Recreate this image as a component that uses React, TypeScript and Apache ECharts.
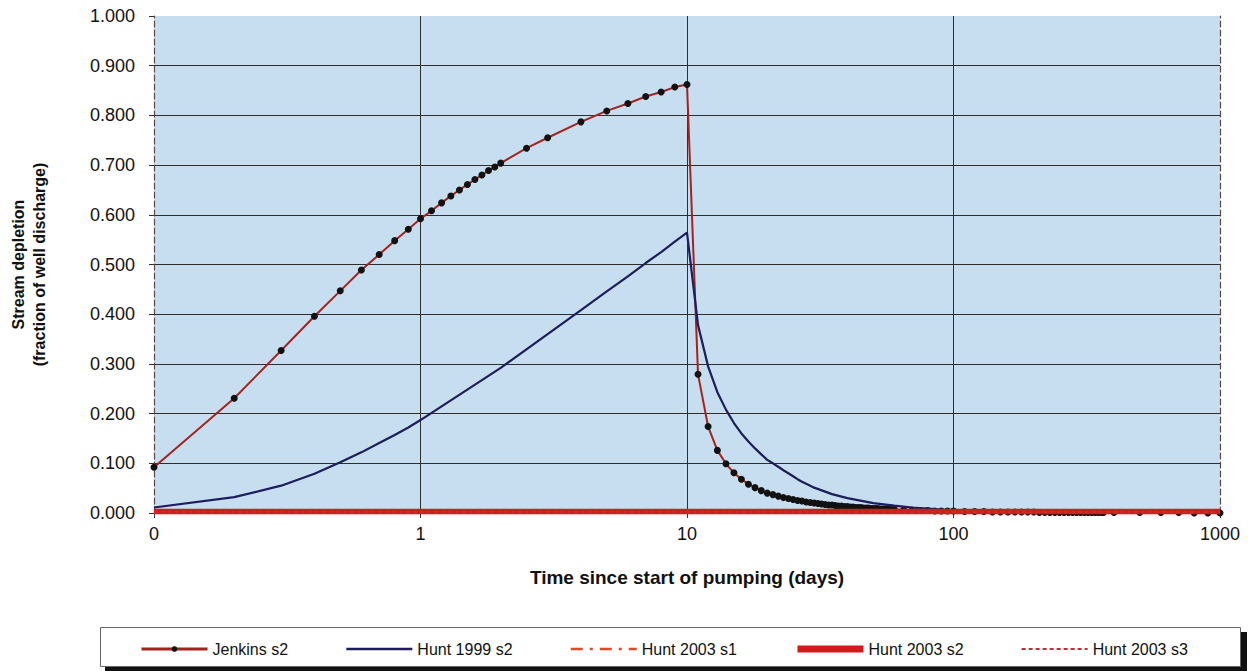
import React, { useEffect, useRef } from "react";
import * as echarts from "echarts";

// ---- Data ----
const jenkinsTimes = [
  0.1, 0.2, 0.3, 0.4, 0.5, 0.6, 0.7, 0.8, 0.9, 1.0,
  1.1, 1.2, 1.3, 1.4, 1.5, 1.6, 1.7, 1.8, 1.9, 2.0,
  2.5, 3, 4, 5, 6, 7, 8, 9, 10,
  11, 12, 13, 14, 15, 16, 17, 18, 19, 20,
  21, 22, 23, 24, 25, 26, 27, 28, 29, 30,
  31, 32, 33, 34, 35, 36, 37, 38, 39, 40,
  41, 42, 43, 44, 45, 46, 47, 48, 49, 50,
  51, 52, 53, 54, 55, 56, 57, 58, 59, 60,
  65, 70, 75, 80, 85, 90, 95, 100,
  110, 120, 130, 140, 150, 160, 170, 180, 190, 200,
  210, 220, 230, 240, 250, 260, 270, 280, 290, 300,
  310, 320, 330, 340, 350, 360, 365,
  400, 500, 600, 700, 800, 900, 1000,
];
const jenkinsValues = [
  0.092, 0.231, 0.327, 0.396, 0.447, 0.489, 0.520, 0.548, 0.571, 0.592,
  0.608, 0.624, 0.638, 0.650, 0.661, 0.671, 0.680, 0.689, 0.696, 0.704,
  0.734, 0.755, 0.787, 0.809, 0.824, 0.838, 0.847, 0.857, 0.862,
  0.279, 0.174, 0.126, 0.099, 0.081, 0.068, 0.058, 0.051, 0.045, 0.040,
  0.037, 0.034, 0.031, 0.029, 0.027, 0.025, 0.024, 0.022, 0.021, 0.020,
  0.019, 0.018, 0.017, 0.016, 0.016, 0.015, 0.014, 0.014, 0.013, 0.013,
  0.012, 0.012, 0.011, 0.011, 0.011, 0.010, 0.010, 0.010, 0.009, 0.009,
  0.009, 0.009, 0.008, 0.008, 0.008, 0.008, 0.007, 0.007, 0.007, 0.007,
  0.006, 0.006, 0.005, 0.005, 0.004, 0.004, 0.004, 0.004,
  0.003, 0.003, 0.003, 0.002, 0.002, 0.002, 0.002, 0.002, 0.002, 0.002,
  0.001, 0.001, 0.001, 0.001, 0.001, 0.001, 0.001, 0.001, 0.001, 0.001,
  0.001, 0.001, 0.001, 0.001, 0.001, 0.001, 0.001,
  0.001, 0.001, 0.001, 0.001, 0.000, 0.000, 0.000,
];

const hunt1999Times = [
  0.1, 0.2, 0.3, 0.4, 0.5, 0.6, 0.7, 0.8, 0.9, 1.0,
  2, 3, 4, 5, 6, 7, 8, 9, 10,
  11, 12, 13, 14, 15, 16, 17, 18, 19, 20,
  21, 22, 23, 24, 25, 26, 27, 28, 29, 30,
  35, 40, 50, 60, 70, 80, 90, 100,
  150, 200, 250, 300, 365,
];
const hunt1999Values = [
  0.011, 0.032, 0.055, 0.079, 0.102, 0.122, 0.141, 0.157, 0.172, 0.187,
  0.292, 0.360, 0.408, 0.446, 0.476, 0.503, 0.525, 0.546, 0.564,
  0.378, 0.295, 0.243, 0.208, 0.181, 0.160, 0.144, 0.130, 0.118, 0.107,
  0.100, 0.093, 0.086, 0.080, 0.074, 0.068, 0.063, 0.059, 0.055, 0.051,
  0.038, 0.030, 0.020, 0.015, 0.011, 0.009, 0.007, 0.006,
  0.003, 0.002, 0.002, 0.001, 0.001,
];

const hunt2003Times = [0.1, 0.2, 0.5, 1, 2, 5, 10, 20, 50, 100, 200, 500, 1000];
const hunt2003S1Values = [0.002, 0.002, 0.002, 0.002, 0.002, 0.002, 0.002, 0.002, 0.002, 0.002, 0.002, 0.002, 0.002];
const hunt2003S2Values = [0.003, 0.003, 0.003, 0.003, 0.003, 0.003, 0.003, 0.003, 0.003, 0.003, 0.003, 0.003, 0.003];
const hunt2003S3Values = [0.002, 0.002, 0.002, 0.002, 0.002, 0.002, 0.002, 0.002, 0.002, 0.002, 0.002, 0.002, 0.002];

const seriesNames = ["Jenkins s2", "Hunt 1999 s2", "Hunt 2003 s1", "Hunt 2003 s2", "Hunt 2003 s3"];
const xTickLabels: Record<string, string> = { "0.1": "0", "1": "1", "10": "10", "100": "100", "1000": "1000" };

const pairs = (xs: number[], ys: number[]) => xs.map((x, i) => [x, ys[i]]);

const FONT = 'Arial, "Liberation Sans", sans-serif';

const C_JENK = "#a3231f";
const C_H99 = "#1d1d5c";
const C_S1 = "#e04a2a";
const C_S2 = "#d21c1c";
const C_S3 = "#c8283a";

export default function App() {
  const ref = useRef<HTMLDivElement>(null);

  useEffect(() => {
    if (!ref.current) return;
    const chart = echarts.init(ref.current, undefined, { renderer: "svg" });
    const gridLine = { color: "#2e2e2e", width: 1 };
    const borderDash = { color: "#5a4a44", width: 1.2, type: [6, 3] as any };
    const hidden = { opacity: 0 };

    chart.setOption({
      animation: false,
      backgroundColor: "#ffffff",
      textStyle: { fontFamily: FONT },
      grid: {
        left: 152,
        right: 35,
        top: 16,
        bottom: 158,
        show: true,
        backgroundColor: "#c7def0",
        borderWidth: 0,
      },
      graphic: [
        {
          type: "rect",
          z: 0,
          shape: { x: 105, y: 632, width: 1142, height: 39 },
          style: { fill: "#111111" },
        },
        {
          type: "rect",
          z: 1,
          shape: { x: 100.5, y: 627.5, width: 1140, height: 39 },
          style: { fill: "#ffffff", stroke: "#666666", lineWidth: 1 },
        },
      ],
      legend: {
        z: 10,
        left: 135,
        top: 636,
        itemGap: 57,
        itemWidth: 66,
        itemHeight: 7,
        textStyle: { fontSize: 16, color: "#111", fontFamily: FONT },
        data: [
          { name: seriesNames[0], itemStyle: { color: "#111" }, lineStyle: { color: C_JENK, width: 3 } },
          { name: seriesNames[1], itemStyle: hidden, lineStyle: { color: C_H99, width: 2.5 } },
          { name: seriesNames[2], itemStyle: hidden, lineStyle: { color: C_S1, width: 2.5, type: [12, 7, 3, 7] } },
          { name: seriesNames[3], itemStyle: hidden, lineStyle: { color: C_S2, width: 7 } },
          { name: seriesNames[4], itemStyle: hidden, lineStyle: { color: C_S3, width: 2, type: [4, 3] } },
        ],
      },
      xAxis: [
        {
          type: "log",
          logBase: 10,
          min: 0.1,
          max: 1000,
          name: "Time since start of pumping (days)",
          nameLocation: "middle",
          nameGap: 55,
          nameTextStyle: { fontSize: 19, fontWeight: "bold", color: "#111", fontFamily: FONT },
          axisLine: { show: true, lineStyle: { color: "#333", width: 1 } },
          axisTick: { show: true, length: 5, lineStyle: { color: "#333" } },
          axisLabel: {
            fontSize: 18,
            color: "#111",
            margin: 12,
            fontFamily: FONT,
            formatter: (v: number) => {
              const key = String(Math.round(v * 10) / 10);
              return xTickLabels[key] ?? String(v);
            },
          },
          splitLine: { show: true, showMinLine: false, showMaxLine: false, lineStyle: gridLine },
        },
        {
          type: "log",
          logBase: 10,
          min: 0.1,
          max: 1000,
          position: "top",
          axisLine: { show: true, lineStyle: borderDash },
          axisTick: { show: false },
          axisLabel: { show: false },
          splitLine: { show: false },
        },
      ],
      yAxis: [
        {
          type: "value",
          min: 0,
          max: 1,
          interval: 0.1,
          name: "Stream depletion\n(fraction of well discharge)",
          nameLocation: "middle",
          nameGap: 104,
          nameTextStyle: { fontSize: 16, fontWeight: "bold", color: "#111", lineHeight: 21, fontFamily: FONT },
          axisLine: { show: true, lineStyle: borderDash },
          axisTick: { show: true, length: 5, lineStyle: { color: "#333" } },
          axisLabel: {
            fontSize: 18,
            color: "#111",
            margin: 19,
            fontFamily: FONT,
            formatter: (v: number) => v.toFixed(3),
          },
          splitLine: { show: true, showMaxLine: false, lineStyle: gridLine },
        },
        {
          type: "value",
          min: 0,
          max: 1,
          interval: 0.1,
          position: "right",
          axisLine: { show: true, lineStyle: borderDash },
          axisTick: { show: false },
          axisLabel: { show: false },
          splitLine: { show: false },
        },
      ],
      series: [
        {
          name: seriesNames[0],
          type: "line",
          data: pairs(jenkinsTimes, jenkinsValues),
          symbol: "circle",
          symbolSize: 7,
          showAllSymbol: true,
          itemStyle: { color: "#111111" },
          lineStyle: { color: C_JENK, width: 2 },
          z: 2,
        },
        {
          name: seriesNames[1],
          type: "line",
          data: pairs(hunt1999Times, hunt1999Values),
          symbol: "none",
          itemStyle: { color: C_H99 },
          lineStyle: { color: C_H99, width: 2.2 },
          z: 3,
        },
        {
          name: seriesNames[2],
          type: "line",
          data: pairs(hunt2003Times, hunt2003S1Values),
          symbol: "none",
          clip: false,
          itemStyle: { color: C_S1 },
          lineStyle: { color: C_S1, width: 2, type: [10, 5, 2, 5] },
          z: 4,
        },
        {
          name: seriesNames[3],
          type: "line",
          data: pairs(hunt2003Times, hunt2003S2Values),
          symbol: "none",
          clip: false,
          itemStyle: { color: C_S2 },
          lineStyle: { color: C_S2, width: 5.5 },
          z: 5,
        },
        {
          name: seriesNames[4],
          type: "line",
          data: pairs(hunt2003Times, hunt2003S3Values),
          symbol: "none",
          clip: false,
          itemStyle: { color: C_S3 },
          lineStyle: { color: C_S3, width: 2, type: [4, 3] },
          z: 6,
        },
      ],
    });

    return () => chart.dispose();
  }, []);

  return (
    <div
      ref={ref}
      style={{ position: "absolute", left: 0, top: 0, width: 1255, height: 671 }}
    />
  );
}
